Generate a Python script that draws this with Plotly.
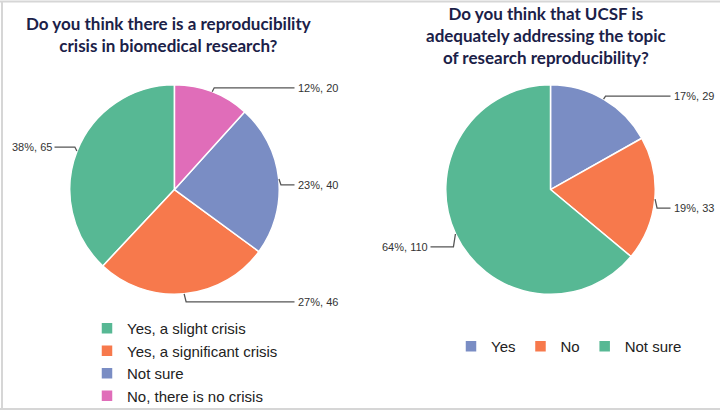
import math
import plotly.graph_objects as go

# ---------------- data ----------------
left_title = "Do you think there is a reproducibility<br>crisis in biomedical research?"
left_labels = ["Yes, a slight crisis", "Yes, a significant crisis", "Not sure", "No, there is no crisis"]
left_values = [65, 46, 40, 20]
left_colors = ["#57b894", "#f7794c", "#7a8dc4", "#e06db9"]

right_title = "Do you think that UCSF is<br>adequately addressing the topic<br>of research reproducibility?"
# trailing space keeps this pie's "Not sure" a separate legend entry from the left pie's
right_labels = ["Yes", "No", "Not sure "]
right_values = [29, 33, 110]
right_colors = ["#7a8dc4", "#f7794c", "#57b894"]

# ---------------- layout constants (pixels) ----------------
W, H = 720, 412
R = 105
LEFT_C = (174.5, 190.0)
RIGHT_C = (550.5, 190.0)
# vertical nudge of each outside label relative to its slice anchor (px)
left_label_dy = [-4, 8, 6, -4]
right_label_dy = [-3, 9, 13]


def px(x):
    return x / W


def py(y):
    return 1 - y / H


def domain(c):
    return dict(x=[px(c[0] - R), px(c[0] + R)], y=[py(c[1] + R), py(c[1] - R)])


# plotly's counterclockwise pies end the first slice at the rotation angle;
# rotate so the first slice starts at 12 o'clock instead
left_rotation = -left_values[0] / sum(left_values) * 360

fig = go.Figure()
fig.add_trace(go.Pie(
    labels=left_labels, values=left_values, sort=False, direction="counterclockwise",
    rotation=left_rotation, marker=dict(colors=left_colors, line=dict(color="white", width=1.5)),
    textinfo="none", hoverinfo="label+value+percent", domain=domain(LEFT_C), legend="legend",
))
fig.add_trace(go.Pie(
    labels=right_labels, values=right_values, sort=False, direction="clockwise",
    rotation=0, marker=dict(colors=right_colors, line=dict(color="white", width=1.5)),
    textinfo="none", hoverinfo="label+value+percent", domain=domain(RIGHT_C), legend="legend2",
))

shapes = []
annotations = []


def add_labels(values, center, direction, dys):
    total = sum(values)
    cum = 0
    for v, dy in zip(values, dys):
        mid = (cum + v / 2) / total * 360
        cum += v
        ang = math.radians(mid if direction == "clockwise" else -mid)
        ax = center[0] + R * math.sin(ang)
        ay = center[1] - R * math.cos(ang)
        side = 1 if ax >= center[0] else -1
        ly = ay + dy
        ex = center[0] + side * (R + 15)
        elbow_x = ax + side * 2
        path = (f"M {px(ax)} {py(ay)} L {px(elbow_x)} {py(ly)} L {px(ex)} {py(ly)}")
        shapes.append(dict(type="path", path=path, xref="paper", yref="paper",
                           line=dict(color="#555555", width=1.3)))
        pct = round(v / total * 100)
        annotations.append(dict(
            x=px(center[0] + side * (R + 16)), y=py(ly), xref="paper", yref="paper",
            text=f"{pct}%, {v}", showarrow=False,
            xanchor="left" if side > 0 else "right", yanchor="middle",
            font=dict(family="Liberation Sans, Arial", size=11, color="#333333"),
        ))


add_labels(left_values, LEFT_C, "counterclockwise", left_label_dy)
add_labels(right_values, RIGHT_C, "clockwise", right_label_dy)

title_font = dict(family="Lato, Open Sans", size=17, color="#1b2148")
annotations.append(dict(x=px(168), y=py(35), xref="paper", yref="paper", text=f"<b>{left_title}</b>",
                        showarrow=False, xanchor="center", yanchor="middle", align="center",
                        font=title_font))
annotations.append(dict(x=px(546), y=py(36), xref="paper", yref="paper", text=f"<b>{right_title}</b>",
                        showarrow=False, xanchor="center", yanchor="middle", align="center",
                        font=title_font))

# frame
frame = dict(color="#d6d6d6", width=2)
shapes += [
    dict(type="line", xref="paper", yref="paper", x0=0, x1=1, y0=py(1.5), y1=py(1.5), line=frame),
    dict(type="line", xref="paper", yref="paper", x0=0, x1=1, y0=py(410), y1=py(410), line=frame),
    dict(type="line", xref="paper", yref="paper", x0=px(2), x1=px(2), y0=py(1), y1=py(410), line=frame),
]

legend_font = dict(family="Liberation Sans, Arial", size=15, color="#222222")
fig.update_layout(
    width=W, height=H, margin=dict(l=0, r=0, t=0, b=0),
    paper_bgcolor="white", plot_bgcolor="white",
    shapes=shapes, annotations=annotations,
    legend=dict(x=px(87), y=py(313), xanchor="left", yanchor="top", orientation="v",
                font=legend_font, bgcolor="rgba(0,0,0,0)", traceorder="normal"),
    legend2=dict(x=px(451), y=py(330), xanchor="left", yanchor="top", orientation="h",
                 font=legend_font, bgcolor="rgba(0,0,0,0)"),
    showlegend=True,
)

fig.write_html("out.html")
